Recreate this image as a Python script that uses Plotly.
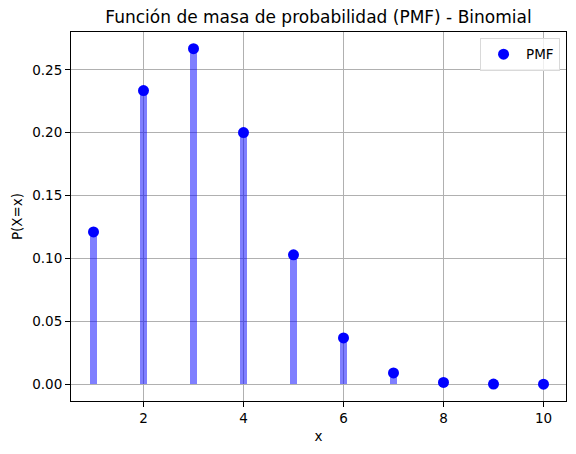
import plotly.graph_objects as go

# Binomial PMF values
x_vals = [1, 2, 3, 4, 5, 6, 7, 8, 9, 10]
pmf_vals = [0.1211, 0.2335, 0.2668, 0.2001, 0.1029, 0.0368, 0.0090, 0.0014, 0.0001, 0.0000]

x_ticks = [2, 4, 6, 8, 10]
y_ticks = [0.0, 0.05, 0.10, 0.15, 0.20, 0.25]

_FONT = "DejaVu Sans"
_GRID = "#b0b0b0"

fig = go.Figure()
fig.add_trace(
    go.Bar(
        x=x_vals,
        y=pmf_vals,
        width=0.135,
        marker=dict(color="rgba(0,0,255,0.5)", line=dict(width=0)),
        showlegend=False,
        hoverinfo="skip",
    )
)
fig.add_trace(
    go.Scatter(
        x=x_vals,
        y=pmf_vals,
        mode="markers",
        name="PMF",
        marker=dict(color="blue", size=11),
    )
)

fig.update_layout(
    width=576,
    height=454,
    paper_bgcolor="white",
    plot_bgcolor="white",
    font=dict(family=_FONT, size=13, color="black"),
    margin=dict(l=71, r=10, t=32, b=53),
    title=dict(
        text="Función de masa de probabilidad (PMF) - Binomial",
        font=dict(size=17),
        x=0.5,
        xref="paper",
        xanchor="center",
        y=1 - 17 / 454,
        yref="container",
        yanchor="middle",
    ),
    legend=dict(
        x=0.988,
        y=0.984,
        xanchor="right",
        yanchor="top",
        bgcolor="rgba(255,255,255,0.8)",
        bordercolor="#d9d9d9",
        borderwidth=1,
        itemwidth=35,
        font=dict(size=13.5),
    ),
    showlegend=True,
    bargap=0,
)
_axis = dict(
    showgrid=True,
    gridcolor=_GRID,
    gridwidth=1,
    zeroline=False,
    showline=True,
    linecolor="black",
    linewidth=1,
    mirror=True,
    ticks="outside",
    ticklen=5,
    tickcolor="black",
    tickfont=dict(size=13.5),
    automargin=False,
)
fig.update_xaxes(
    range=[0.55, 10.45],
    tickvals=x_ticks,
    title=dict(text="x", font=dict(size=13.5), standoff=6),
    **_axis,
)
fig.update_yaxes(
    range=[-0.01334, 0.2801],
    tickvals=y_ticks,
    tickformat=".2f",
    title=dict(text="P(X=x)", font=dict(size=13.5), standoff=6),
    **_axis,
)

# drop the page's default body margin so the figure sits at the top-left corner
fig.write_html(
    "out.html",
    config={"displayModeBar": False},
    post_script="document.body.style.margin = '0';",
)
